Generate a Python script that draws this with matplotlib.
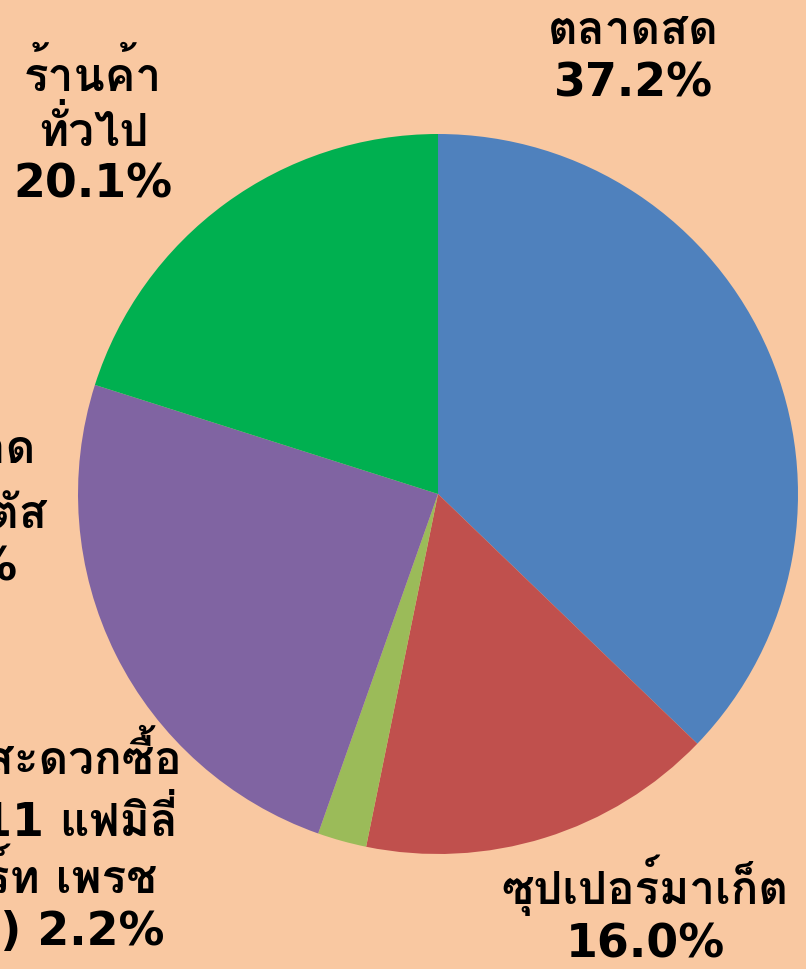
import matplotlib
matplotlib.use("Agg")
import matplotlib.pyplot as plt

# ช่องทางการซื้อ (ร้อยละ)
labels = ["ตลาดสด", "ซุปเปอร์มาเก็ต", "ร้านสะดวกซื้อ\n(7-11 แฟมิลี่\nมาร์ท เพรช\nฯลฯ)",
          "ห้างขนาด\nใหญ่ โลตัส", "ร้านค้า\nทั่วไป"]
values = [37.2, 16.0, 2.2, 24.5, 20.1]
colors = ["#4F81BD", "#C0504D", "#9BBB59", "#8064A2", "#00B050"]
# where each label goes (pie units, centre = 0,0, radius = 1)
label_pos = [(0.542, 1.215), (0.575, -1.155), (-1.097, -0.972), (-1.39, -0.033), (-0.958, 1.014)]
joiner = ["\n", "\n", " ", "\n", "\n"]

W, H = 806, 970
cx, cy, R = 438, 495, 360

fig = plt.figure(figsize=(W / 100, H / 100), dpi=100)
fig.patch.set_facecolor("#F9C8A1")
ax = fig.add_axes([0, 0, 1, 1])
ax.set_facecolor("#F9C8A1")

ax.pie(values, colors=colors, startangle=90, counterclock=False, radius=1,
       wedgeprops=dict(linewidth=0))
ax.set_xlim(-cx / R, (W - cx) / R)
ax.set_ylim(-(H - cy) / R, cy / R)
ax.set_aspect("auto")
ax.axis("off")

for lab, v, pos, j in zip(labels, values, label_pos, joiner):
    ax.text(pos[0], pos[1], lab + j + "%.1f%%" % v, ha="center", va="center",
            multialignment="center", fontsize=33, fontweight="bold",
            family=["DejaVu Sans", "Loma"], linespacing=1.2,
            color="black", clip_on=False)

fig.savefig("out.png", dpi=100, facecolor=fig.get_facecolor())
